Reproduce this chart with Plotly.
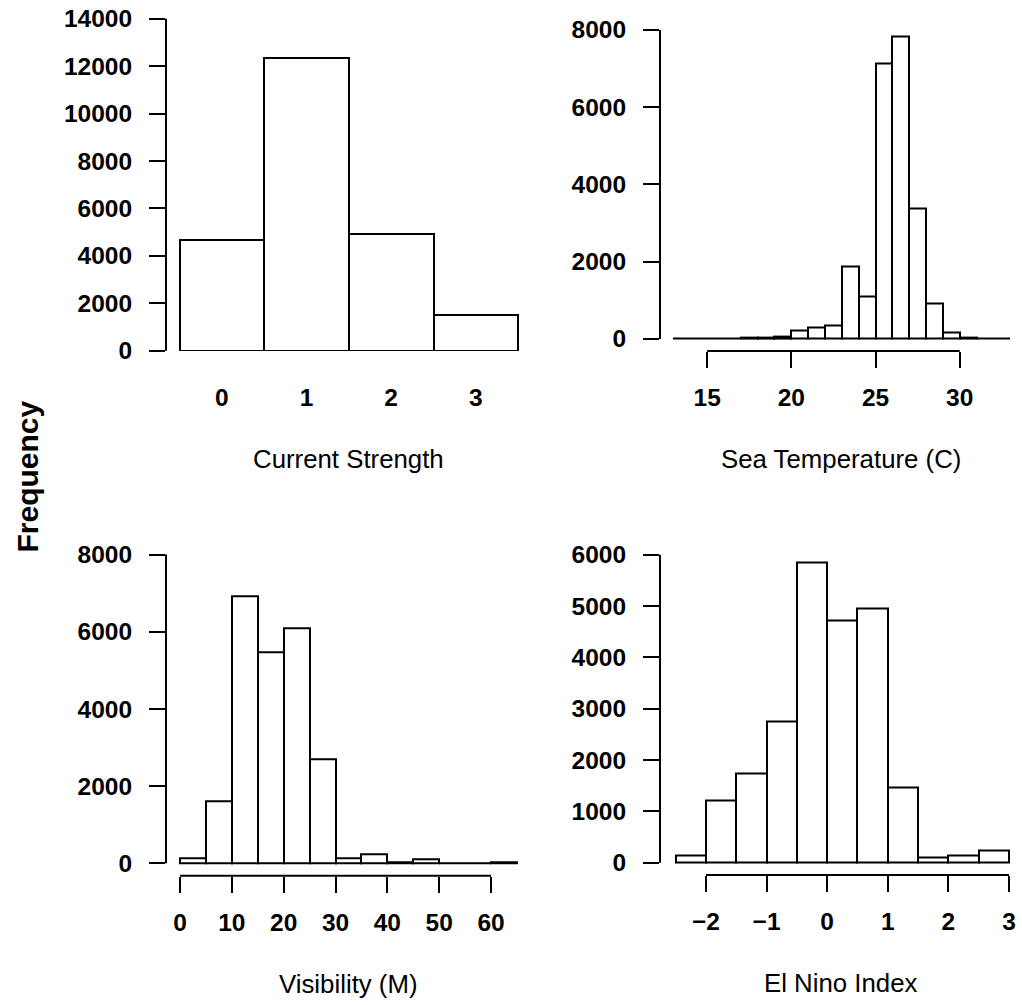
import plotly.graph_objects as go

# ---------------- data ----------------
current_levels = [0, 1, 2, 3]
current_counts = [4670, 12345, 4920, 1505]

sea_temp_edges = list(range(13, 34))  # 13..33, bin width 1
sea_temp_counts = [3, 2, 5, 8, 35, 35, 60, 225, 302, 337, 1865, 1097,
                   7124, 7824, 3385, 924, 155, 35, 20, 5]

visibility_edges = list(range(0, 70, 5))  # 0..65, bin width 5
visibility_counts = [130, 1598, 6928, 5467, 6080, 2705, 132, 236, 35, 95, 15, 5, 25]

elnino_edges = [-2.5, -2.0, -1.5, -1.0, -0.5, 0.0, 0.5, 1.0, 1.5, 2.0, 2.5, 3.0]
elnino_counts = [150, 1215, 1745, 2750, 5860, 4720, 4950, 1470, 100, 150, 243]

y_ticks_current = [0, 2000, 4000, 6000, 8000, 10000, 12000, 14000]
y_ticks_sea = [0, 2000, 4000, 6000, 8000]
y_ticks_vis = [0, 2000, 4000, 6000, 8000]
y_ticks_elnino = [0, 1000, 2000, 3000, 4000, 5000, 6000]
x_ticks_sea = [15, 20, 25, 30]
x_ticks_vis = [0, 10, 20, 30, 40, 50, 60]
x_ticks_elnino = [-2, -1, 0, 1, 2, 3]

titles = ["Current Strength", "Sea Temperature (C)", "Visibility (M)", "El Nino Index"]

# ---------------- layout helpers ----------------
W, H = 1022, 1005
FONT = "Liberation Sans, Arial, Helvetica, sans-serif"


def xd(a, b):
    return [a / W, min(b / W, 1.0)]


def yd(top, bottom):
    return [1 - bottom / H, 1 - top / H]


def hist_bars(edges, counts, xa, ya):
    centers = [(edges[i] + edges[i + 1]) / 2 for i in range(len(counts))]
    widths = [edges[i + 1] - edges[i] for i in range(len(counts))]
    return go.Bar(x=centers, y=counts, width=widths, xaxis=xa, yaxis=ya,
                  marker=dict(color="white", line=dict(color="black", width=2)),
                  hoverinfo="x+y", showlegend=False)


fig = go.Figure()
fig.add_trace(go.Bar(x=current_levels, y=current_counts, width=[1] * len(current_levels),
                     xaxis="x", yaxis="y",
                     marker=dict(color="white", line=dict(color="black", width=2)),
                     showlegend=False))
fig.add_trace(hist_bars(sea_temp_edges, sea_temp_counts, "x2", "y2"))
fig.add_trace(hist_bars(visibility_edges, visibility_counts, "x3", "y3"))
fig.add_trace(hist_bars(elnino_edges, elnino_counts, "x4", "y4"))

tickfont = dict(family=FONT, size=24.5, color="black", weight="bold")


def xaxis(domain, rng, ticks, anchor, visible_ticks=True):
    return dict(domain=domain, range=rng, anchor=anchor, tickvals=ticks,
                showgrid=False, zeroline=False, showline=False, automargin=False,
                ticks="outside", ticklen=16, tickwidth=2,
                tickcolor="black" if visible_ticks else "rgba(0,0,0,0)",
                tickfont=tickfont, ticklabelstandoff=9, fixedrange=True)


def yaxis(domain, rng, ticks, anchor):
    return dict(domain=domain, range=rng, anchor=anchor, tickvals=ticks,
                ticktext=[str(t) for t in ticks],
                showgrid=False, zeroline=False, showline=False, automargin=False,
                ticks="outside", ticklen=16, tickwidth=2, tickcolor="black",
                tickfont=tickfont, ticklabelstandoff=12, fixedrange=True)


fig.update_layout(
    template="none",
    width=W, height=H,
    margin=dict(l=0, r=0, t=0, b=0, pad=0),
    paper_bgcolor="white", plot_bgcolor="white",
    bargap=0, showlegend=False,
    xaxis=xaxis(xd(166, 531.7), [-0.66, 3.66], current_levels, "y", visible_ticks=False),
    yaxis=yaxis(yd(10, 351), [-13, 14367], y_ticks_current, "x"),
    xaxis2=xaxis(xd(660, 1022), [12.2, 33.7], x_ticks_sea, "y2"),
    yaxis2=yaxis(yd(24.6, 351), [-313, 8137], y_ticks_sea, "x2"),
    xaxis3=xaxis(xd(166, 530.4), [-2.7, 67.6], x_ticks_vis, "y3"),
    yaxis3=yaxis(yd(542.2, 875.7), [-320, 8320], y_ticks_vis, "x3"),
    xaxis4=xaxis(xd(660, 1022), [-2.759, 3.215], x_ticks_elnino, "y4"),
    yaxis4=yaxis(yd(542.4, 875), [-240, 6240], y_ticks_elnino, "x4"),
)

line = dict(color="black", width=2)
shapes = []
# R-style y axis lines (from first to last tick)
for xa, ya, yt in [("x", "y", y_ticks_current), ("x2", "y2", y_ticks_sea),
                   ("x3", "y3", y_ticks_vis), ("x4", "y4", y_ticks_elnino)]:
    shapes.append(dict(type="line", xref=f"{xa} domain", yref=ya,
                       x0=0, x1=0, y0=min(yt), y1=max(yt), line=line))
# R-style x axis lines (panels 2-4)
for xa, ya, xt in [("x2", "y2", x_ticks_sea), ("x3", "y3", x_ticks_vis),
                   ("x4", "y4", x_ticks_elnino)]:
    shapes.append(dict(type="line", xref=xa, yref=f"{ya} domain",
                       x0=min(xt), x1=max(xt), y0=0, y1=0, line=line))
fig.update_layout(shapes=shapes)

annotations = []
for i, (xa, ya) in enumerate([("x", "y"), ("x2", "y2"), ("x3", "y3"), ("x4", "y4")]):
    annotations.append(dict(text=titles[i], xref=f"{xa} domain", yref=f"{ya} domain",
                            x=0.5, y=0, yshift=-108, showarrow=False,
                            xanchor="center", yanchor="middle",
                            font=dict(family=FONT, size=25.8, color="black")))
annotations.append(dict(text="Frequency", xref="paper", yref="paper",
                        x=27 / W, y=1 - 476.5 / H, textangle=-90, showarrow=False,
                        xanchor="center", yanchor="middle",
                        font=dict(family=FONT, size=30, color="black", weight="bold")))
fig.update_layout(annotations=annotations)

fig.write_html("out.html")
